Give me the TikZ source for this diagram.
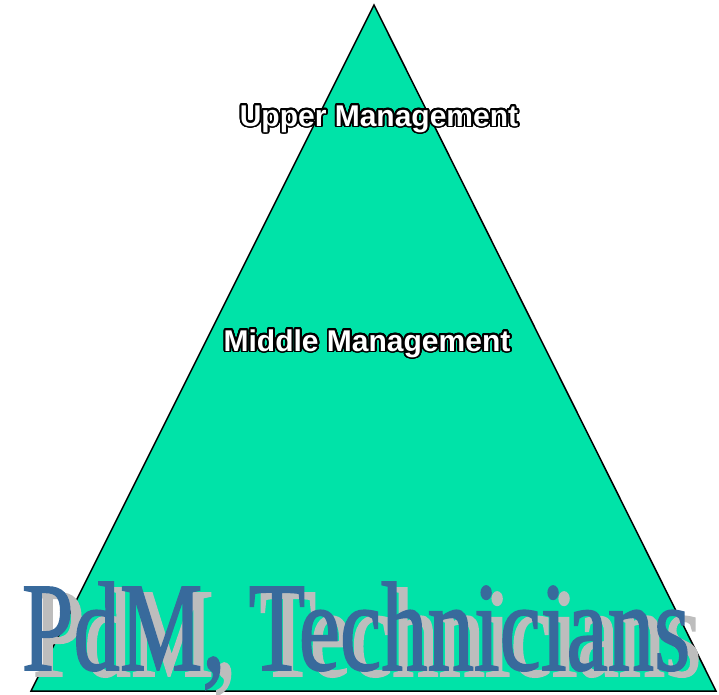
\documentclass[tikz,border=0pt]{standalone}
\usepackage{fontspec}
\usepackage{contour}
\setmainfont{Liberation Serif}
\newfontfamily\levelfont{Liberation Sans}
\newfontfamily\basefont[FakeStretch=0.73,FakeBold=1.2]{Liberation Serif}
\contourlength{1.8pt}
\contournumber{32}
\definecolor{pyramidgreen}{HTML}{00E3A8}
\definecolor{baseblue}{HTML}{386A9C}
\definecolor{shadowgray}{HTML}{BDBDBD}
\tikzset{
  level/.style={anchor=base, inner sep=0pt, font=\levelfont\bfseries\fontsize{30}{30}\selectfont},
  bottom/.style={anchor=base, inner sep=0pt, font=\basefont\fontsize{127}{127}\selectfont}
}

\begin{document}
\begin{tikzpicture}[x=1pt,y=-1pt]
\useasboundingbox (0,0) rectangle (719,694);
\draw[fill=pyramidgreen, line width=1.5pt, line join=miter] (374,5) -- (716,691) -- (31,691) -- cycle;
% levels of the pyramid
\node[level] (upper) at (379,126) {\contour{black}{\textcolor{white}{Upper Management}}};
\node[level] (middle) at (367,351) {\contour{black}{\textcolor{white}{Middle Management}}};
% base text with its shadow
\node[bottom, text=shadowgray] (baseshadow) at (367,676) {PdM, Technicians};
\node[bottom, text=baseblue] (base) at (356,670) {PdM, Technicians};
\end{tikzpicture}
\end{document}
